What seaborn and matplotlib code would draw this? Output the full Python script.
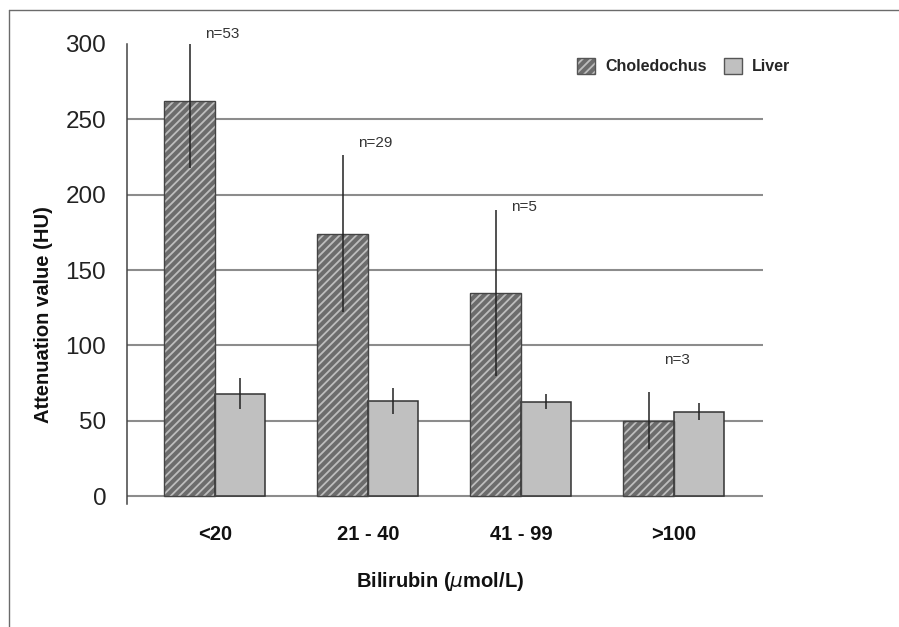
import numpy as np
import pandas as pd
import matplotlib
matplotlib.use("Agg")
import matplotlib.pyplot as plt
import matplotlib.patches as mpatches
import seaborn as sns

# values
categories = ['<20', '21 - 40', '41 - 99', '>100']
groups = ['Choledochus', 'Liver']
choledochus_mean = [262, 174, 134.5, 50]
choledochus_sd = [44, 52, 55, 19]
liver_mean = [68, 63, 62.5, 56]
liver_sd = [10.5, 8.5, 5, 5.5]
n_labels = ['n=53', 'n=29', 'n=5', 'n=3']
n_label_y = [306.5, 234.5, 191.5, 90.5]

df = pd.DataFrame({
    'Bilirubin': categories + categories,
    'Group': [groups[0]] * len(categories) + [groups[1]] * len(categories),
    'value': choledochus_mean + liver_mean,
    'sd': choledochus_sd + liver_sd,
})

sns.set_style('white')
plt.rcParams['font.family'] = ['Liberation Sans', 'DejaVu Sans']
plt.rcParams['hatch.linewidth'] = 1.3

W, H = 899, 627
fig = plt.figure(figsize=(W / 100, H / 100), dpi=100)
ax = fig.add_axes([127 / W, 1 - 504 / H, (763 - 127) / W, (504 - 44) / H])

sns.barplot(data=df, x='Bilirubin', y='value', hue='Group', order=categories,
            hue_order=groups, palette={'Choledochus': '#6c6c6c', 'Liver': '#c0c0c0'},
            width=0.66, gap=0, errorbar=None, saturation=1, legend=False,
            edgecolor='#333333', linewidth=1.1, ax=ax, zorder=3)

chol_bars, liver_bars = ax.containers[0], ax.containers[1]
for bar in chol_bars:
    bar.set_hatch('////')
    bar.set_edgecolor('#bdbdbd')
    bar.set_linewidth(0)
    ax.add_patch(mpatches.Rectangle((bar.get_x(), bar.get_y()), bar.get_width(),
                                    bar.get_height(), fill=False, edgecolor='#444444',
                                    linewidth=1.0, zorder=4))

# error bars (no caps, thin dark line)
for bars, sds in [(chol_bars, choledochus_sd), (liver_bars, liver_sd)]:
    xs = [b.get_x() + b.get_width() / 2 for b in bars]
    hs = [b.get_height() for b in bars]
    ax.errorbar(xs, hs, yerr=sds, fmt='none', ecolor='#222222', elinewidth=1.1,
                capsize=0, zorder=5)

# n= labels
for bar, lbl, ly in zip(chol_bars, n_labels, n_label_y):
    ax.annotate(lbl, xy=(bar.get_x() + bar.get_width() / 2, ly), xytext=(11, 0),
                textcoords='offset points', ha='left', va='center', fontsize=11,
                color='#333333', annotation_clip=False)

ax.set_xlim(-0.575, 3.582)
ax.set_ylim(-5.3, 300)
ax.set_yticks([0, 50, 100, 150, 200, 250, 300])
ax.yaxis.grid(True, color='#8c8c8c', linewidth=1.5, zorder=0)
ax.get_ygridlines()[-1].set_visible(False)
ax.set_axisbelow(True)

for side in ['top', 'right', 'bottom']:
    ax.spines[side].set_visible(False)
ax.spines['left'].set_color('#444444')
ax.spines['left'].set_linewidth(1.1)

ax.tick_params(axis='y', length=6.5, width=1.1, color='#444444', pad=8.5,
               labelsize=17.5, labelcolor='#222222')
ax.tick_params(axis='x', length=0, pad=15, labelsize=14.5, labelcolor='#111111')
for t in ax.get_xticklabels():
    t.set_fontweight('bold')

ax.set_xlabel('Bilirubin ($\\mu$mol/L)', fontsize=14.5, fontweight='bold', color='#111111')
ax.set_ylabel('Attenuation value (HU)', fontsize=14.5, fontweight='bold', color='#111111')
ax.xaxis.set_label_coords((440 - 127) / 636, (504 - 570) / 460)
ax.yaxis.set_label_coords((53 - 127) / 636, (504 - 315) / 460)

# legend with hatched + outlined handle
h_chol = (mpatches.Patch(facecolor='#6c6c6c', edgecolor='#bdbdbd', hatch='////', linewidth=0),
          mpatches.Patch(fill=False, edgecolor='#555555', linewidth=1.0))
h_liver = mpatches.Patch(facecolor='#c0c0c0', edgecolor='#555555', linewidth=1.0)
fig.legend([h_chol, h_liver], groups, loc='center left',
           bbox_to_anchor=(577 / W, 1 - 66 / H), ncol=2, frameon=False,
           prop={'size': 11.5, 'weight': 'bold'}, borderpad=0, borderaxespad=0,
           handlelength=1.15, handleheight=1.2, handletextpad=0.6, columnspacing=1.1)

# outer frame of the figure
fig.add_artist(plt.Line2D([8.5 / W, 8.5 / W], [0, 1 - 9.5 / H], transform=fig.transFigure,
                          color='#6b6b6b', linewidth=1.0))
fig.add_artist(plt.Line2D([8.5 / W, 1], [1 - 9.5 / H, 1 - 9.5 / H], transform=fig.transFigure,
                          color='#6b6b6b', linewidth=1.0))

fig.savefig('out.png', dpi=100)
